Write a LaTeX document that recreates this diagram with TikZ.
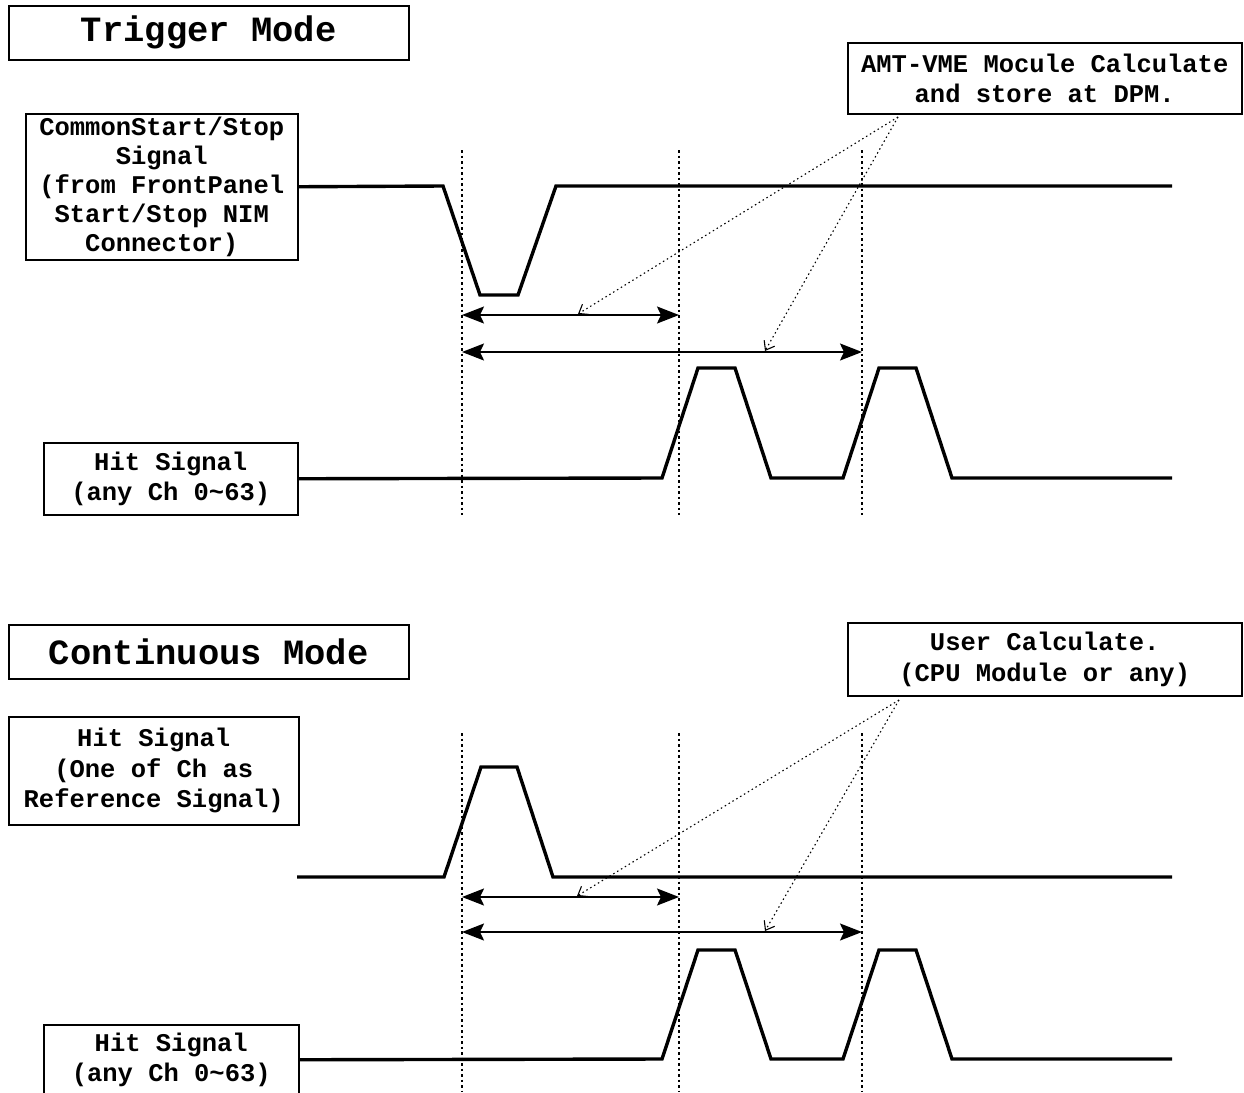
\documentclass[tikz,border=0pt]{standalone}
\usepackage{fontspec}
\setmainfont{Liberation Mono}
\usetikzlibrary{arrows.meta}
\begin{document}
\begin{tikzpicture}[x=1pt,y=-1pt,
  box/.style={draw, line width=1.5pt, inner sep=0pt, align=center, anchor=north west,
    font=\fontsize{25.5}{30.5}\selectfont\bfseries},
  titlebox/.style={box, font=\fontsize{35.5}{40}\selectfont\bfseries},
  sig/.style={line width=3.4pt, line join=miter},
  guide/.style={line width=1.1pt, dash pattern=on 2.5pt off 3pt},
  span/.style={line width=1.8pt, {Stealth[length=22pt,width=17pt,inset=4pt]}-{Stealth[length=22pt,width=17pt,inset=4pt]}},
  callout/.style={line width=1.1pt, dash pattern=on 1.5pt off 3pt, -{Straight Barb[length=8pt,width=12pt]}}]
\useasboundingbox (0,0) rectangle (1244,1092);
\fill[white] (0,0) rectangle (1244,1092);

% ---------- Trigger mode ----------
\node[titlebox, minimum width=400pt, minimum height=54pt] (trig) at (8,5) {Trigger Mode};
\node[box, minimum width=272pt, minimum height=146pt, font=\fontsize{25.5}{29}\selectfont\bfseries] (cs) at (25,113)
  {CommonStart/Stop\\Signal\\(from FrontPanel\\Start/Stop NIM\\Connector)};
\node[box, minimum width=394pt, minimum height=71pt] (amt) at (847,42)
  {AMT-VME Mocule Calculate\\and store at DPM.};
\node[box, minimum width=254pt, minimum height=72pt] (hit1) at (43,442)
  {Hit Signal\\(any Ch 0\textasciitilde63)};

\draw[sig] (cs.east) -- (443,186) -- (480,295) -- (518,295) -- (556,186) -- (1172,186);
\draw[sig] (hit1.east) -- (662,478) -- (698,368) -- (735,368) -- (771,478)
  -- (843,478) -- (879,368) -- (916,368) -- (952,478) -- (1172,478);

\coordinate (ta) at (462,150); \coordinate (tb) at (462,515);
\coordinate (tc) at (679,150); \coordinate (td) at (679,515);
\coordinate (te) at (862,150); \coordinate (tf) at (862,515);
\draw[guide] (ta) -- (tb);
\draw[guide] (tc) -- (td);
\draw[guide] (te) -- (tf);

\coordinate (s1a) at (462,315); \coordinate (s1b) at (679,315);
\coordinate (s2a) at (462,352); \coordinate (s2b) at (862,352);
\draw[span] (s1a) -- (s1b);
\draw[span] (s2a) -- (s2b);

\coordinate (amtp) at (898,117);
\coordinate (c1) at (578,314); \coordinate (c2) at (765,351);
\draw[callout] (amtp) -- (c1);
\draw[callout] (amtp) -- (c2);

% ---------- Continuous mode ----------
\node[titlebox, minimum width=400pt, minimum height=54pt] (cont) at (8,624) {Continuous Mode};
\node[box, minimum width=290pt, minimum height=108pt] (ref) at (8,716)
  {Hit Signal\\(One of Ch as\\Reference Signal)};
\node[box, minimum width=394pt, minimum height=73pt] (user) at (847,622)
  {User Calculate.\\(CPU Module or any)};
\node[box, minimum width=255pt, minimum height=70pt] (hit2) at (43,1024)
  {Hit Signal\\(any Ch 0\textasciitilde63)};

\coordinate (refs) at (297,877);
\draw[sig] (refs) -- (444,877) -- (481,767) -- (517,767) -- (553,877) -- (1172,877);
\draw[sig] (hit2.east) -- (662,1059) -- (698,950) -- (735,950) -- (771,1059)
  -- (843,1059) -- (879,950) -- (916,950) -- (952,1059) -- (1172,1059);

\coordinate (ba) at (462,733); \coordinate (bb) at (462,1092);
\coordinate (bc) at (679,733); \coordinate (bd) at (679,1092);
\coordinate (be) at (862,733); \coordinate (bf) at (862,1092);
\draw[guide] (ba) -- (bb);
\draw[guide] (bc) -- (bd);
\draw[guide] (be) -- (bf);

\coordinate (u1a) at (462,897); \coordinate (u1b) at (679,897);
\coordinate (u2a) at (462,932); \coordinate (u2b) at (862,932);
\draw[span] (u1a) -- (u1b);
\draw[span] (u2a) -- (u2b);

\coordinate (userp) at (899,700);
\coordinate (d1) at (577,896); \coordinate (d2) at (765,931);
\draw[callout] (userp) -- (d1);
\draw[callout] (userp) -- (d2);
\end{tikzpicture}
\end{document}
